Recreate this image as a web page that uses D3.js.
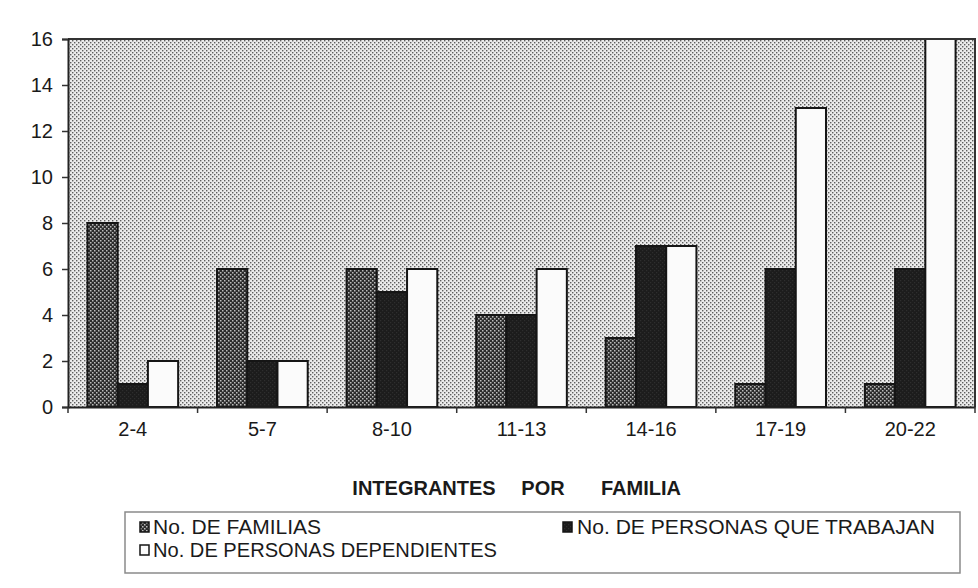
<!DOCTYPE html>
<html><head><meta charset="utf-8">
<script src="https://cdn.jsdelivr.net/npm/d3@7"></script>
<style>body{margin:0;background:#fff}svg{display:block}text{font-family:"Liberation Sans",Arial,sans-serif;fill:#1a1a1a}</style>
</head><body><svg id="c" width="978" height="588"></svg>
<script>
const categories = ["2-4","5-7","8-10","11-13","14-16","17-19","20-22"];
const familias = [8,6,6,4,3,1,1];
const trabajan = [1,2,5,4,7,6,6];
const dependientes = [2,2,6,6,7,13,16];
const yTicks = [0,2,4,6,8,10,12,14,16];
const seriesNames = ["No. DE FAMILIAS","No. DE PERSONAS QUE TRABAJAN","No. DE PERSONAS DEPENDIENTES"];
const xTitle = ["INTEGRANTES","POR","FAMILIA"];

const svg = d3.select("#c");
const defs = svg.append("defs");
function dotPattern(id, bg, dot, r){
  const p = defs.append("pattern").attr("id",id).attr("width",4).attr("height",4).attr("patternUnits","userSpaceOnUse");
  p.append("rect").attr("width",4).attr("height",4).attr("fill",bg);
  p.append("rect").attr("x",0).attr("y",0).attr("width",r).attr("height",r).attr("fill",dot);
  p.append("rect").attr("x",2).attr("y",2).attr("width",r).attr("height",r).attr("fill",dot);
}
dotPattern("bgPat","#ebebeb","#5e5e5e",1.4);
dotPattern("famPat","#2c2c2c","#bdbdbd",1.5);
dotPattern("trabPat","#1c1c1c","#2e2e2e",1.2);

const L=68, R=975, T=39, B=407;
const x = d3.scaleBand().domain(categories).range([L,R]).paddingInner(0.3).paddingOuter(0.15);
const sub = d3.scaleBand().domain([0,1,2]).range([0,x.bandwidth()]);
const y = d3.scaleLinear().domain([0,16]).range([B,T]);

svg.append("rect").attr("x",L).attr("y",T).attr("width",R-L).attr("height",B-T).attr("fill","url(#bgPat)");

const series = [
  {vals:familias, fill:"url(#famPat)"},
  {vals:trabajan, fill:"url(#trabPat)"},
  {vals:dependientes, fill:"#fbfbfb"}
];
series.forEach((s,si)=>{
  svg.append("g").selectAll("rect").data(categories).join("rect")
    .attr("x",(c)=>x(c)+sub(si))
    .attr("y",(c,i)=>y(s.vals[i]))
    .attr("width",sub.bandwidth())
    .attr("height",(c,i)=>B-y(s.vals[i]))
    .attr("fill",s.fill).attr("stroke","#151515").attr("stroke-width",2);
});

svg.append("path").attr("d",`M${L},${T}H${R}V${B}`).attr("fill","none").attr("stroke","#333").attr("stroke-width",2);

const fontFam = "Liberation Sans, Arial, sans-serif";
const ya = svg.append("g").attr("transform",`translate(${L},0)`)
  .call(d3.axisLeft(y).tickValues(yTicks).tickSize(6).tickPadding(9));
ya.select(".domain").attr("stroke","#222").attr("stroke-width",2);
ya.selectAll(".tick line").attr("stroke","#333").attr("stroke-width",1.5);
ya.selectAll("text").attr("font-size",20).attr("fill","#1a1a1a").attr("font-family",fontFam);

const xa = svg.append("g").attr("transform",`translate(0,${B})`)
  .call(d3.axisBottom(x).tickSize(0).tickPadding(15));
xa.select(".domain").attr("stroke","#222").attr("stroke-width",2);
xa.selectAll("text").attr("font-size",20).attr("fill","#1a1a1a").attr("font-family",fontFam);
const boundaries = d3.range(categories.length+1).map(i=>L + i*x.step());
svg.append("g").selectAll("line").data(boundaries).join("line")
  .attr("x1",d=>d).attr("x2",d=>d).attr("y1",B).attr("y2",B+6)
  .attr("stroke","#333").attr("stroke-width",1.5);

const tx = [424,543,641];
svg.append("g").selectAll("text").data(xTitle).join("text")
  .attr("x",(d,i)=>tx[i]).attr("y",495).attr("text-anchor","middle")
  .attr("font-size",20).attr("font-weight","bold").text(d=>d);

svg.append("rect").attr("x",125).attr("y",512).attr("width",835).attr("height",61)
  .attr("fill","none").attr("stroke","#8a8a8a").attr("stroke-width",1.5);
const leg = [
  {name:seriesNames[0], fill:"url(#famPat)", sx:140, tx:153, ty:527, w:168},
  {name:seriesNames[1], fill:"url(#trabPat)", sx:563, tx:577, ty:527, w:358},
  {name:seriesNames[2], fill:"#fbfbfb", sx:140, tx:153, ty:550, w:344}
];
leg.forEach(l=>{
  svg.append("rect").attr("x",l.sx).attr("y",l.ty-5).attr("width",9).attr("height",10)
    .attr("fill",l.fill).attr("stroke","#151515").attr("stroke-width",1.5);
  svg.append("text").attr("x",l.tx).attr("y",l.ty).attr("dy","0.36em").attr("font-size",20)
    .attr("textLength",l.w).attr("lengthAdjust","spacingAndGlyphs").text(l.name);
});
</script></body></html>
